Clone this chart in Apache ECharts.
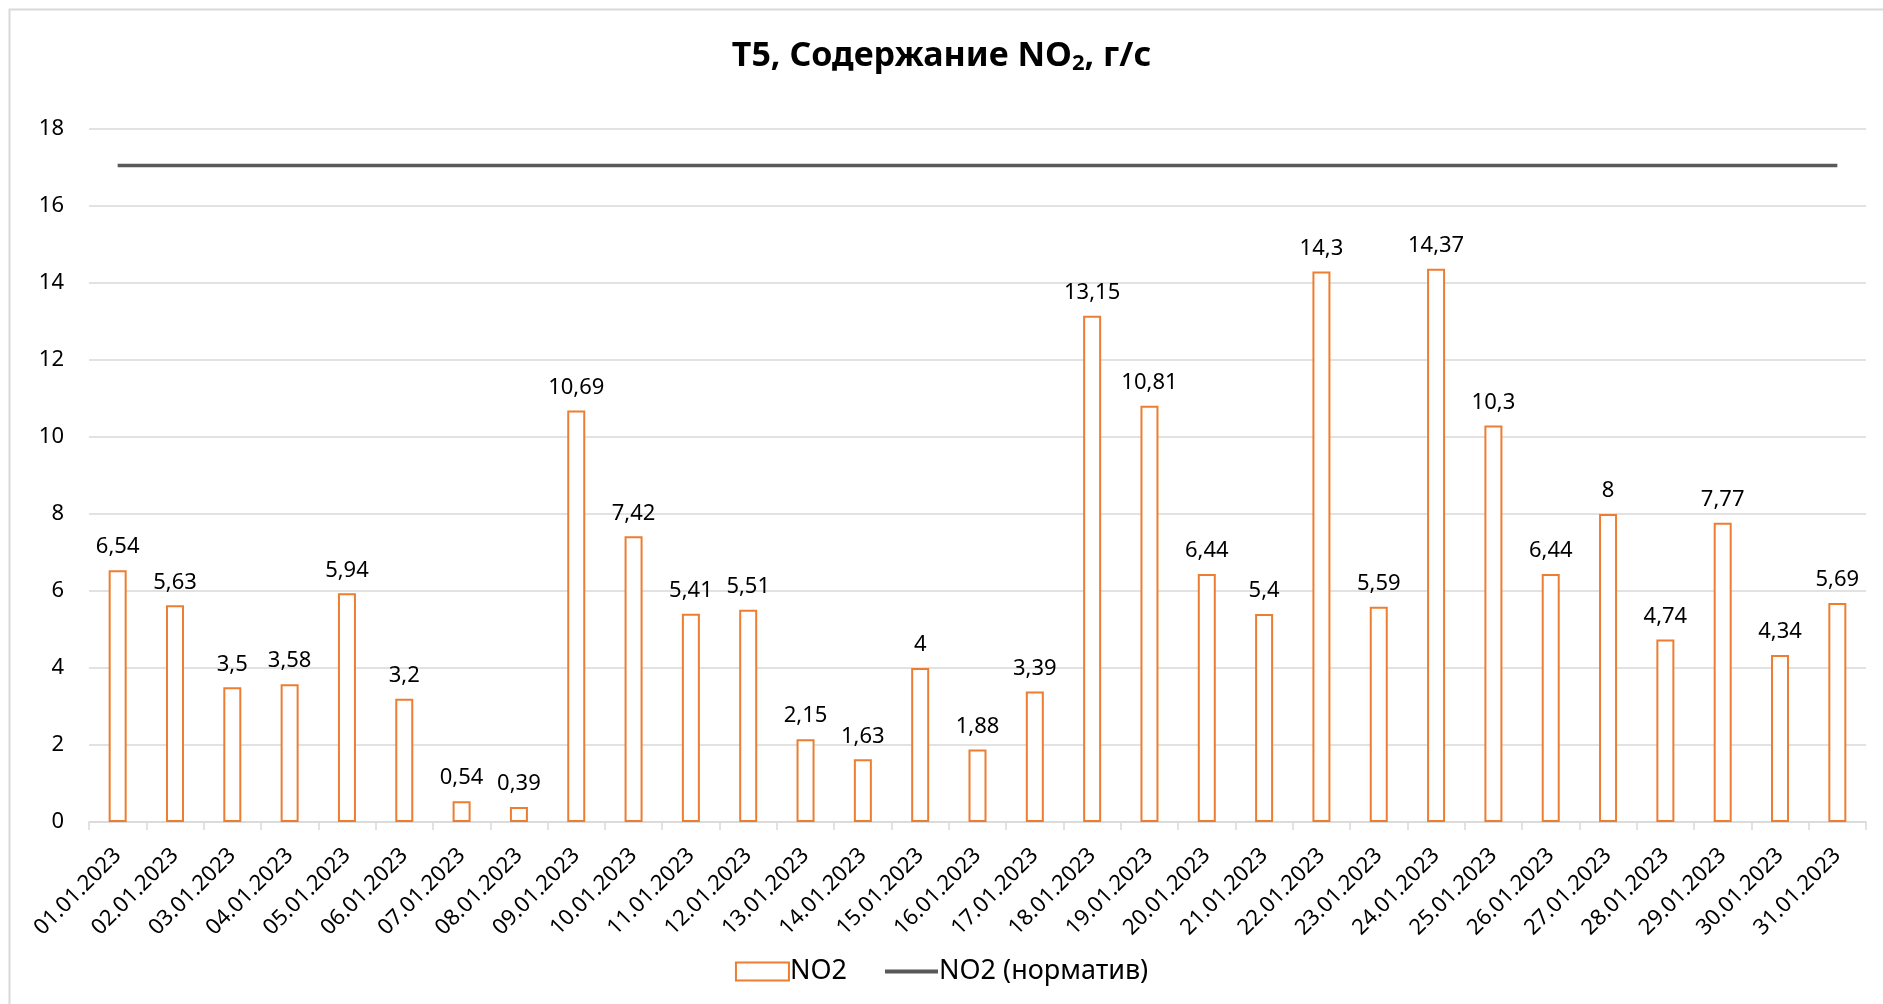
<!DOCTYPE html>
<html>
<head>
<meta charset="utf-8">
<script src="https://cdn.jsdelivr.net/npm/echarts@6/dist/echarts.min.js"></script>
<style>
html,body{margin:0;padding:0;background:#fff;}
#chart{width:1883px;height:1004px;}
</style>
</head>
<body>
<div id="chart"></div>
<script>
const categories = ['01.01.2023','02.01.2023','03.01.2023','04.01.2023','05.01.2023','06.01.2023','07.01.2023','08.01.2023','09.01.2023','10.01.2023','11.01.2023','12.01.2023','13.01.2023','14.01.2023','15.01.2023','16.01.2023','17.01.2023','18.01.2023','19.01.2023','20.01.2023','21.01.2023','22.01.2023','23.01.2023','24.01.2023','25.01.2023','26.01.2023','27.01.2023','28.01.2023','29.01.2023','30.01.2023','31.01.2023'];
const no2Values = [6.54,5.63,3.5,3.58,5.94,3.2,0.54,0.39,10.69,7.42,5.41,5.51,2.15,1.63,4,1.88,3.39,13.15,10.81,6.44,5.4,14.3,5.59,14.37,10.3,6.44,8,4.74,7.77,4.34,5.69];
const normValues = [17.05,17.05,17.05,17.05,17.05,17.05,17.05,17.05,17.05,17.05,17.05,17.05,17.05,17.05,17.05,17.05,17.05,17.05,17.05,17.05,17.05,17.05,17.05,17.05,17.05,17.05,17.05,17.05,17.05,17.05,17.05];
const yTicks = {min: 0, max: 18, interval: 2};

const FONT = 'Noto Sans';
const chart = echarts.init(document.getElementById('chart'));
chart.setOption({
  animation: false,
  backgroundColor: '#fff',
  textStyle: {fontFamily: FONT},
  graphic: [{
    type: 'rect', silent: true,
    shape: {x: 9.5, y: 9.5, width: 1900, height: 1100},
    style: {fill: 'none', stroke: '#d9d9d9', lineWidth: 2}
  }],
  title: {
    text: '{a|T5, Содержание NO}{s|2}{a|, г/с}',
    left: 'center',
    top: 30,
    textStyle: {
      rich: {
        a: {fontFamily: FONT, fontWeight: 'bold', fontSize: 34, color: '#000', lineHeight: 42},
        s: {fontFamily: FONT, fontWeight: 'bold', fontSize: 22, color: '#000', lineHeight: 42, padding: [16, 0, 0, 0]}
      }
    }
  },
  legend: {
    bottom: 14,
    left: 'center',
    itemWidth: 53,
    itemHeight: 18,
    itemGap: 36,
    textStyle: {fontFamily: FONT, fontSize: 27, color: '#000', padding: [0, 0, 0, -4]},
    data: [
      {name: 'NO2', icon: 'rect'},
      {name: 'NO2 (норматив)', itemStyle: {opacity: 0}, lineStyle: {color: '#595959', width: 4}}
    ]
  },
  grid: {left: 89, right: 17, top: 129, bottom: 182, containLabel: false},
  xAxis: {
    type: 'category',
    data: categories,
    boundaryGap: true,
    axisLine: {lineStyle: {color: '#d9d9d9', width: 1.5}},
    axisTick: {show: true, length: 8, alignWithLabel: false, lineStyle: {color: '#d9d9d9', width: 1.5}},
    axisLabel: {rotate: 45, interval: 0, fontSize: 22, color: '#000', margin: 30, fontFamily: FONT}
  },
  yAxis: {
    type: 'value',
    min: yTicks.min, max: yTicks.max, interval: yTicks.interval,
    axisLine: {show: false},
    axisTick: {show: false},
    splitLine: {lineStyle: {color: '#d9d9d9', width: 1.5}},
    axisLabel: {fontSize: 22, color: '#000', margin: 25, fontFamily: FONT}
  },
  series: [
    {
      name: 'NO2',
      type: 'bar',
      data: no2Values,
      barWidth: 18,
      itemStyle: {color: '#ffffff', borderColor: '#ED7D31', borderWidth: 2},
      label: {
        show: true, position: 'top', distance: 12,
        fontSize: 22, color: '#000', fontFamily: FONT,
        formatter: p => String(p.value).replace('.', ',')
      },
      z: 2
    },
    {
      name: 'NO2 (норматив)',
      type: 'line',
      data: normValues,
      symbol: 'none',
      lineStyle: {color: '#595959', width: 3.5},
      itemStyle: {color: '#595959'},
      z: 3
    }
  ]
});
</script>
</body>
</html>
